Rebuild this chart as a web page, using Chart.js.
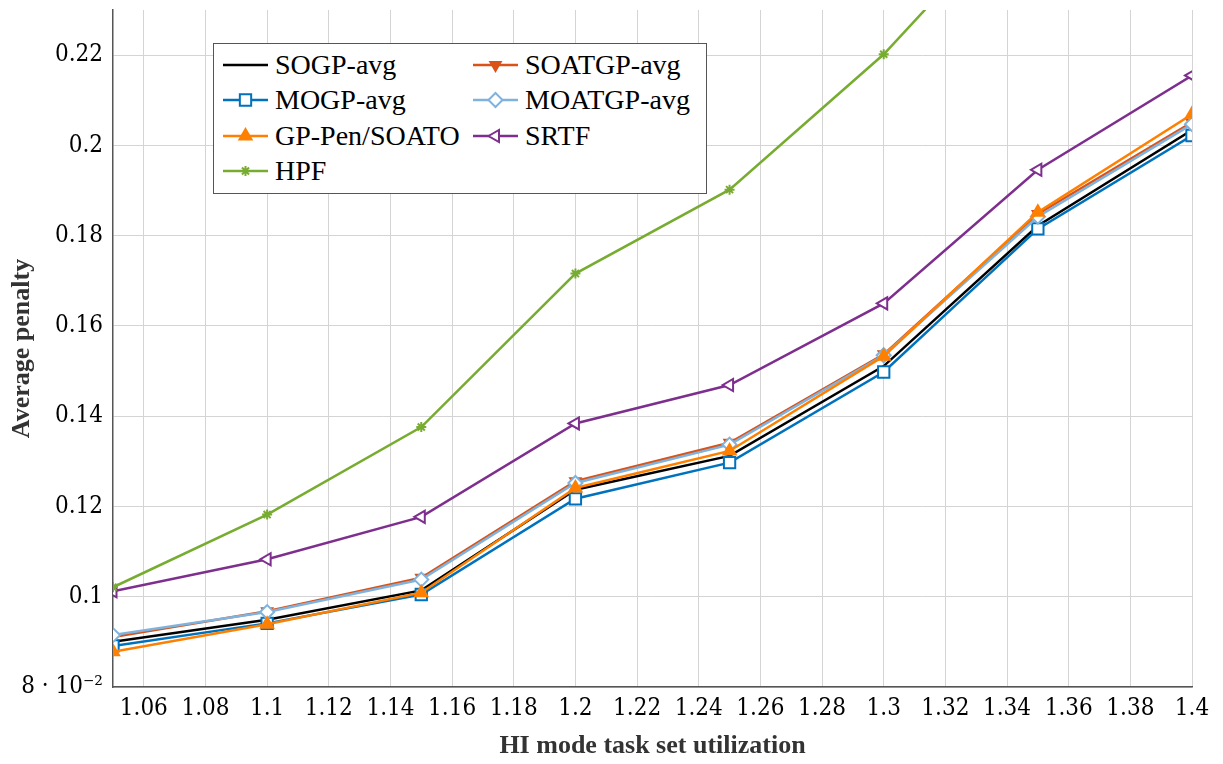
<!DOCTYPE html>
<html>
<head>
<meta charset="utf-8">
<script src="https://cdn.jsdelivr.net/npm/chart.js@4.4.1/dist/chart.umd.min.js"></script>
<style>
  html, body { margin: 0; padding: 0; background: #fff; }
  #wrap { position: relative; width: 1223px; height: 764px; }
  #legend { position: absolute; left: 213px; top: 43px; width: 492px; height: 149px;
            border: 1.5px solid #555; background: #fff; font-family: "Liberation Serif", serif;
            font-size: 28px; color: #000; }
  .item { position: absolute; height: 34px; line-height: 34px; white-space: nowrap; }
  .item canvas { position: absolute; left: 0; top: 7px; }
  .item span { position: absolute; left: 53px; top: 0; }
</style>
</head>
<body>
<div id="wrap">
  <canvas id="c" width="1223" height="764"></canvas>
  <div id="legend"></div>
</div>
<script>
// ---- data ----
const xValues = [1.05, 1.1, 1.15, 1.2, 1.25, 1.3, 1.35, 1.4];
const sogpAvg    = [0.0900, 0.0949, 0.1014, 0.1237, 0.1312, 0.1511, 0.1822, 0.2034];
const soatgpAvg  = [0.0911, 0.0968, 0.1042, 0.1256, 0.1341, 0.1537, 0.1848, 0.2051];
const mogpAvg    = [0.0891, 0.0941, 0.1005, 0.1217, 0.1297, 0.1498, 0.1815, 0.2022];
const moatgpAvg  = [0.0915, 0.0966, 0.1038, 0.1252, 0.1337, 0.1535, 0.1842, 0.2047];
const gpPenSoato = [0.0878, 0.0939, 0.1009, 0.1241, 0.1323, 0.1533, 0.1852, 0.2069];
const srtf       = [0.1012, 0.1083, 0.1177, 0.1384, 0.1469, 0.1650, 0.1946, 0.2155];
const hpf        = [0.1021, 0.1182, 0.1376, 0.1716, 0.1902, 0.2202, 0.2570, 0.2900];

const seriesNames = ["SOGP-avg", "SOATGP-avg", "MOGP-avg", "MOATGP-avg", "GP-Pen/SOATO", "SRTF", "HPF"];
const xTickValues = [1.06, 1.08, 1.1, 1.12, 1.14, 1.16, 1.18, 1.2, 1.22, 1.24, 1.26, 1.28, 1.3, 1.32, 1.34, 1.36, 1.38, 1.4];
const xTickLabels = ["1.06", "1.08", "1.1", "1.12", "1.14", "1.16", "1.18", "1.2", "1.22", "1.24", "1.26", "1.28", "1.3", "1.32", "1.34", "1.36", "1.38", "1.4"];
const yTickValues = [0.08, 0.10, 0.12, 0.14, 0.16, 0.18, 0.20, 0.22];
const yTickLabels = ["8 · 10⁻²", "0.1", "0.12", "0.14", "0.16", "0.18", "0.2", "0.22"];

// ---- styles ----
const styles = [
  { color: "#000000", point: false, fill: "#000000", rot: 0, r: 0 },
  { color: "#D95319", point: "triangle", fill: "#D95319", rot: 180, r: 6 },
  { color: "#0072BD", point: "rect", fill: "#ffffff", rot: 0, r: 8 },
  { color: "#7FB2DC", point: "rectRot", fill: "#ffffff", rot: 0, r: 7 },
  { color: "#FF8000", point: "triangle", fill: "#FF8000", rot: 0, r: 7 },
  { color: "#7E2F8E", point: "triangle", fill: "#ffffff", rot: -90, r: 7 },
  { color: "#77AC30", point: "star", fill: "#77AC30", rot: 0, r: 5 }
];
const seriesValues = [sogpAvg, soatgpAvg, mogpAvg, moatgpAvg, gpPenSoato, srtf, hpf];

const datasets = seriesValues.map((vals, i) => ({
  label: seriesNames[i],
  data: xValues.map((x, k) => ({ x: x, y: vals[k] })),
  borderColor: styles[i].color,
  backgroundColor: styles[i].fill,
  pointBackgroundColor: styles[i].fill,
  pointBorderColor: styles[i].color,
  pointStyle: styles[i].point || "circle",
  pointRadius: styles[i].point ? styles[i].r : 0,
  pointRotation: styles[i].rot,
  pointBorderWidth: 2,
  borderWidth: 2.5,
  tension: 0,
  fill: false,
  order: seriesValues.length - i
}));

const tickFont = { family: "'DejaVu Serif Condensed', 'Liberation Serif', serif", size: 24 };
const titleFont = { family: "'Liberation Serif', serif", size: 26, weight: "bold" };

new Chart(document.getElementById("c"), {
  type: "line",
  data: { datasets: datasets },
  options: {
    responsive: false,
    animation: false,
    devicePixelRatio: 1,
    layout: { padding: { top: 8, right: 31, left: 0, bottom: 0 } },
    plugins: { legend: { display: false }, tooltip: { enabled: false } },
    scales: {
      x: {
        type: "linear",
        min: 1.05, max: 1.4,
        afterBuildTicks: (s) => { s.ticks = xTickValues.map(v => ({ value: v })); },
        afterFit: (s) => { s.height = 77; s.paddingLeft = 0; s.paddingRight = 0; },
        ticks: {
          autoSkip: false, maxRotation: 0, padding: 7, color: "#000",
          font: tickFont,
          callback: (v, idx) => xTickLabels[idx]
        },
        grid: { color: "#d4d4d4", lineWidth: 1, drawTicks: false },
        border: { color: "#555", width: 1.5 },
        title: {
          display: true, text: "HI mode task set utilization", color: "#333",
          font: titleFont,
          padding: { top: 0, bottom: 2 }
        }
      },
      y: {
        type: "linear",
        min: 0.08, max: 0.23,
        afterBuildTicks: (s) => { s.ticks = yTickValues.map(v => ({ value: v })); },
        afterFit: (s) => { s.width = 113; s.paddingTop = 0; s.paddingBottom = 0; },
        ticks: {
          padding: 10, color: "#000",
          font: tickFont,
          callback: (v, idx) => yTickLabels[idx]
        },
        grid: { color: "#d4d4d4", lineWidth: 1, drawTicks: false },
        border: { color: "#555", width: 1.5 },
        title: {
          display: true, text: "Average penalty", color: "#333",
          font: titleFont,
          padding: { top: 7, bottom: 0 }
        }
      }
    }
  }
});

// ---- HTML legend (line + marker glyphs) ----
function drawMarker(ctx, st, x, y) {
  if (!st.point) return;
  ctx.save();
  ctx.translate(x, y);
  ctx.rotate(st.rot * Math.PI / 180);
  ctx.lineWidth = 2;
  ctx.strokeStyle = st.color;
  ctx.fillStyle = st.fill;
  ctx.beginPath();
  const r = st.r;
  if (st.point === "rect") {
    const s = r * Math.SQRT1_2;
    ctx.rect(-s, -s, 2 * s, 2 * s);
  } else if (st.point === "rectRot") {
    ctx.moveTo(-r, 0); ctx.lineTo(0, -r); ctx.lineTo(r, 0); ctx.lineTo(0, r); ctx.closePath();
  } else if (st.point === "triangle") {
    for (let k = 0; k < 3; k++) {
      const a = k * 2 * Math.PI / 3;
      const px = Math.sin(a) * r, py = -Math.cos(a) * r;
      if (k === 0) ctx.moveTo(px, py); else ctx.lineTo(px, py);
    }
    ctx.closePath();
  } else if (st.point === "star") {
    for (let k = 0; k < 4; k++) {
      const a = k * Math.PI / 4;
      ctx.moveTo(Math.cos(a) * r, Math.sin(a) * r);
      ctx.lineTo(-Math.cos(a) * r, -Math.sin(a) * r);
    }
  }
  if (st.point !== "star") ctx.fill();
  ctx.stroke();
  ctx.restore();
}

const legendEl = document.getElementById("legend");
const legendPos = [[0, 0], [1, 0], [0, 1], [1, 1], [0, 2], [1, 2], [0, 3]];
seriesNames.forEach((name, i) => {
  const it = document.createElement("div");
  it.className = "item";
  it.style.left = (8 + legendPos[i][0] * 250) + "px";
  it.style.top = (4 + legendPos[i][1] * 35.3) + "px";
  const cv = document.createElement("canvas");
  cv.width = 50; cv.height = 20;
  const ctx = cv.getContext("2d");
  ctx.strokeStyle = styles[i].color;
  ctx.lineWidth = 2.5;
  ctx.beginPath(); ctx.moveTo(1, 10); ctx.lineTo(46, 10); ctx.stroke();
  drawMarker(ctx, styles[i], 23.5, 10);
  const sp = document.createElement("span");
  sp.textContent = name;
  it.appendChild(cv); it.appendChild(sp);
  legendEl.appendChild(it);
});
</script>
</body>
</html>
